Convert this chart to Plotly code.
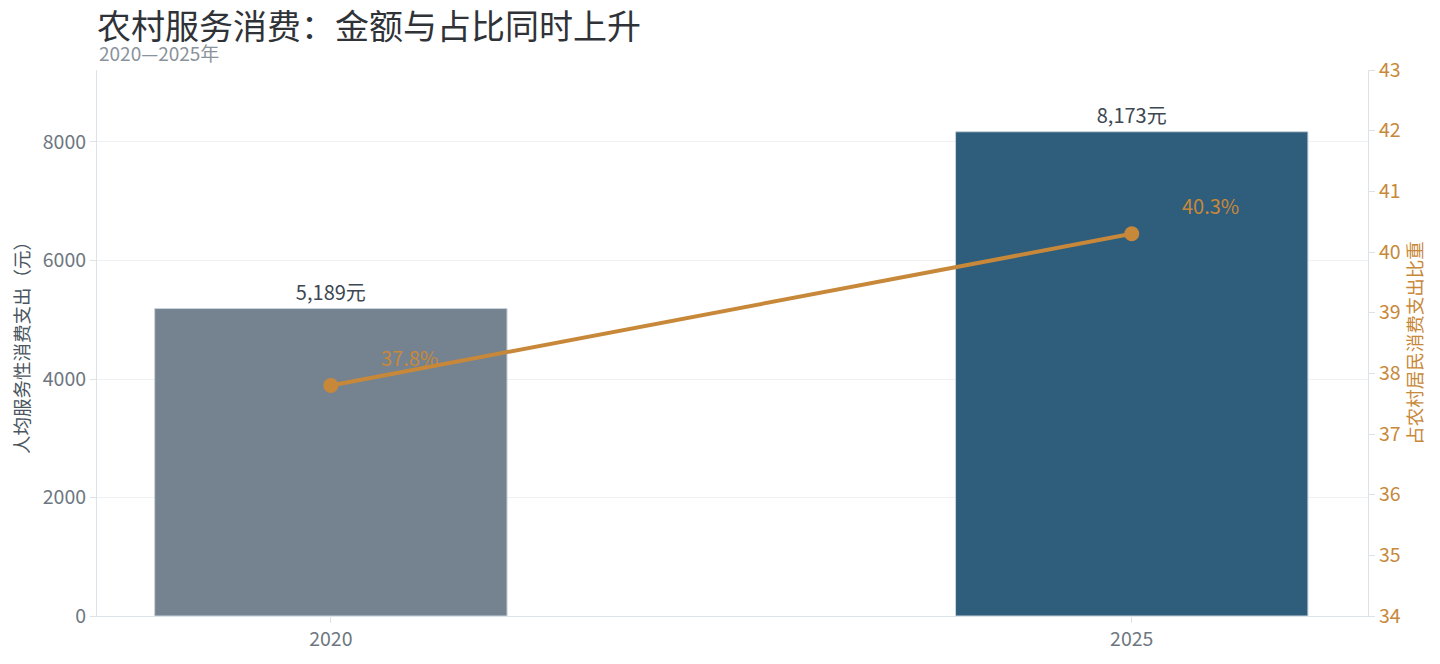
import plotly.graph_objects as go

# 数据
years = ["2020", "2025"]
spend = [5189, 8173]          # 人均服务性消费支出（元）
share = [37.8, 40.3]          # 占农村居民消费支出比重（%）
bar_colors = ["#74838f", "#2f5d7c"]

FONT = "Noto Sans CJK SC"
GRAY = "#6e7781"
ORANGE = "#c8883a"
AXIS_LINE = "#dde2e8"

fig = go.Figure()

fig.add_bar(
    x=years, y=spend, yaxis="y",
    marker=dict(color=bar_colors, line=dict(color="#c9d3dc", width=1)),
    width=0.44,
    text=[f"{v:,}元" for v in spend],
    textposition="outside", cliponaxis=False,
    textfont=dict(family=FONT, size=20, color="#3d4852"),
    showlegend=False, hoverinfo="skip",
)

fig.add_scatter(
    x=years, y=share, yaxis="y2",
    mode="lines+markers",
    line=dict(color=ORANGE, width=4),
    marker=dict(size=15, color=ORANGE),
    showlegend=False,
)

# 比重标签（类别轴上用序号定位）
for i, v in enumerate(share):
    fig.add_annotation(
        x=i, y=v, xref="x", yref="y2", text=f"{v}%",
        showarrow=False, xshift=79, yshift=28,
        font=dict(family=FONT, size=20, color=ORANGE),
    )

fig.add_annotation(
    text="2020—2025年", xref="paper", yref="paper",
    x=0, y=1.0, xanchor="left", yanchor="bottom", yshift=2,
    showarrow=False,
    font=dict(family=FONT, size=19, color="#8a929a"),
)

fig.update_layout(
    width=1440, height=664,
    paper_bgcolor="white", plot_bgcolor="white",
    font=dict(family=FONT, color=GRAY),
    margin=dict(l=87, r=80, t=62, b=56),
    title=dict(
        text="农村服务消费：金额与占比同时上升",
        x=89 / 1440, xanchor="left", y=0.972, yanchor="middle",
        font=dict(family=FONT, size=34, color="#2f3338"),
    ),
    xaxis=dict(
        type="category", range=[-0.292, 1.295],
        showline=True, linecolor=AXIS_LINE, linewidth=1,
        ticks="outside", ticklen=6, tickcolor=AXIS_LINE,
        tickfont=dict(family=FONT, size=19.5, color=GRAY),
        showgrid=False,
    ),
    yaxis=dict(
        range=[0, 9215],
        tickvals=[0, 2000, 4000, 6000, 8000],
        showline=True, linecolor=AXIS_LINE, linewidth=1,
        ticks="outside", ticklen=6, tickcolor=AXIS_LINE,
        gridcolor="#eef0f3", gridwidth=1, zeroline=False,
        tickfont=dict(family=FONT, size=19.5, color=GRAY),
        title=dict(text="人均服务性消费支出（元）",
                   font=dict(family=FONT, size=18.5, color="#4a5560"),
                   standoff=10),
    ),
    yaxis2=dict(
        overlaying="y", side="right",
        range=[34, 43], dtick=1,
        showline=True, linecolor=AXIS_LINE, linewidth=1,
        ticks="outside", ticklen=6, tickcolor=AXIS_LINE,
        showgrid=False, zeroline=False,
        tickfont=dict(family=FONT, size=19.5, color=ORANGE),
        title=dict(text="占农村居民消费支出比重",
                   font=dict(family=FONT, size=18.5, color=ORANGE),
                   standoff=8),
    ),
)

fig.write_html("out.html")
